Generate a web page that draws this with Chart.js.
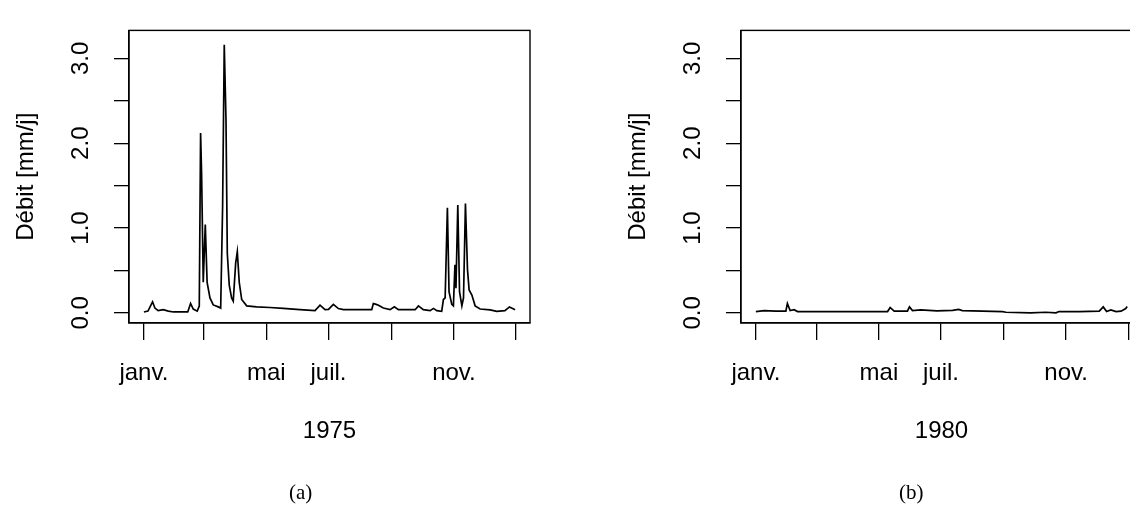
<!DOCTYPE html>
<html>
<head>
<meta charset="utf-8">
<script src="https://cdn.jsdelivr.net/npm/chart.js@4.4.1/dist/chart.umd.min.js"></script>
<style>
  html, body { margin: 0; padding: 0; background: #fff; width: 1130px; height: 519px; overflow: hidden; }
  .panel { position: absolute; top: 0; width: 560px; height: 519px; }
  .caption { position: absolute; top: 480px; font-family: "Liberation Serif", serif; font-size: 21px; color: #000; }
</style>
</head>
<body>
<div class="panel" style="left:0"><canvas id="chart1975" width="560" height="519"></canvas></div>
<div class="panel" style="left:612px"><canvas id="chart1980" width="560" height="519"></canvas></div>
<div class="caption" style="left:289px">(a)</div>
<div class="caption" style="left:899px">(b)</div>
<script>
// débit journalier (jour de l'année, mm/j)
const days1975 = [0, 4, 8.5, 10.8, 14, 19, 24, 29, 43, 45.8, 48.4, 52.3, 54.3, 55.6, 56.6, 58.2, 60.2, 62, 64.8, 68,
  73, 75.3, 77.2, 78.8, 80.5, 81.8, 83.7, 86, 87.6, 90, 91.6, 93.5, 95.9, 100.8, 110.6, 123.6, 136.7, 153, 167.8, 172.7,
  177.6, 181, 185.8, 190.7, 195.6, 223.4, 225, 227.7, 230, 234.8, 241.4, 245.6, 249.6, 266, 269.2, 274, 280.7, 283.9,
  287.2, 292, 293.7, 295.4, 297.6, 299.2, 301.9, 303.5, 305, 306, 307.8, 309.5, 311.8, 313.4, 315.3, 317.3, 318.9,
  321.6, 324.8, 329.7, 339.5, 346, 354, 358.5, 364];
const flow1975 = [0.01, 0.02, 0.13, 0.056, 0.025, 0.037, 0.02, 0.01, 0.01, 0.11, 0.045, 0.02, 0.08, 2.12, 1.63, 0.36, 1.04, 0.36, 0.175, 0.093,
  0.07, 0.056, 1.26, 3.16, 2.28, 0.70, 0.325, 0.175, 0.138, 0.585, 0.72, 0.36, 0.157, 0.082, 0.07, 0.063, 0.052, 0.037, 0.026, 0.09,
  0.037, 0.04, 0.10, 0.05, 0.037, 0.037, 0.11, 0.10, 0.09, 0.056, 0.037, 0.07, 0.037, 0.037, 0.082, 0.037, 0.026, 0.052,
  0.026, 0.018, 0.157, 0.175, 1.24, 0.25, 0.10, 0.082, 0.567, 0.29, 1.27, 0.25, 0.082, 0.175, 1.29, 0.51, 0.27,
  0.21, 0.082, 0.045, 0.034, 0.018, 0.026, 0.07, 0.037];

const days1980 = [0, 8, 19.7, 29.5, 31, 33.7, 37.6, 41, 129.5, 132, 136, 149, 151, 154, 162, 178, 193.4, 199.3, 203,
  242.6, 245.8, 270, 285, 295, 298, 318, 337.6, 341.5, 344.8, 349, 354, 359, 363.6, 365];
const flow1980 = [0.015, 0.026, 0.02, 0.02, 0.11, 0.026, 0.037, 0.015, 0.015, 0.063, 0.02, 0.02, 0.07, 0.026, 0.034, 0.022, 0.03, 0.04, 0.026,
  0.015, 0.007, 0.0, 0.007, 0.0, 0.015, 0.015, 0.02, 0.07, 0.015, 0.034, 0.015, 0.02, 0.05, 0.075];

// premiers jours des mois pairs (janv., mars, mai, juil., sept., nov., janv.)
const monthDays1975 = [0, 59, 120, 181, 243, 304, 365];
const monthDays1980 = [0, 60, 121, 182, 244, 305, 366];
const monthLabels = ['janv.', '', 'mai', 'juil.', '', 'nov.', ''];

const yTickValues = [0, 0.5, 1, 1.5, 2, 2.5, 3];
const yTickLabels = ['0.0', '', '1.0', '', '2.0', '', '3.0'];

const FONT = { family: '"Liberation Sans", Arial, sans-serif', size: 24 };

// cadre complet autour de la zone de tracé (comme box() dans R)
const boxPlugin = {
  id: 'box',
  afterDraw(chart) {
    const { ctx, chartArea: a } = chart;
    ctx.save();
    ctx.strokeStyle = '#000';
    ctx.lineWidth = 1.4;
    ctx.strokeRect(a.left, a.top, a.right - a.left, a.bottom - a.top);
    ctx.restore();
  }
};

function makeChart(canvasId, days, flow, monthDays, year, xMax) {
  const ctx = document.getElementById(canvasId).getContext('2d');
  return new Chart(ctx, {
    type: 'line',
    data: {
      datasets: [{
        data: days.map((d, i) => ({ x: d, y: flow[i] })),
        borderColor: '#000',
        borderWidth: 1.7,
        pointRadius: 0,
        fill: false,
        tension: 0,
      }],
    },
    options: {
      responsive: false,
      animation: false,
      layout: { padding: { top: 15, right: 30, left: 0, bottom: 0 } },
      plugins: { legend: { display: false }, tooltip: { enabled: false } },
      scales: {
        x: {
          type: 'linear',
          min: -14.6,
          max: xMax,
          afterBuildTicks: (scale) => { scale.ticks = monthDays.map(v => ({ value: v })); },
          afterFit: (scale) => { scale.height = 196; },
          ticks: {
            autoSkip: false,
            maxRotation: 0,
            minRotation: 0,
            padding: 19,
            color: '#000',
            font: FONT,
            callback: (v, i) => monthLabels[i],
          },
          grid: { drawOnChartArea: false, tickLength: 17, color: '#000', lineWidth: 1.3 },
          border: { display: true, color: '#000', width: 1.3 },
          title: { display: true, text: String(year), color: '#000', font: FONT, padding: { top: 0, bottom: 73 } },
        },
        y: {
          min: -0.12,
          max: 3.33,
          afterBuildTicks: (scale) => { scale.ticks = yTickValues.map(v => ({ value: v })); },
          afterFit: (scale) => { scale.width = 129; },
          ticks: {
            minRotation: 90,
            maxRotation: 90,
            crossAlign: 'center',
            padding: 16,
            color: '#000',
            font: FONT,
            callback: (v, i) => yTickLabels[i],
          },
          grid: { drawOnChartArea: false, tickLength: 15, color: '#000', lineWidth: 1.3 },
          border: { display: true, color: '#000', width: 1.3 },
          title: { display: true, text: 'Débit [mm/j]', color: '#000', font: FONT, padding: { top: 12, bottom: 0 } },
        },
      },
    },
    plugins: [boxPlugin],
  });
}

makeChart('chart1975', days1975, flow1975, monthDays1975, 1975, 378.6);
makeChart('chart1980', days1980, flow1980, monthDays1980, 1980, 379.6);
</script>
</body>
</html>
